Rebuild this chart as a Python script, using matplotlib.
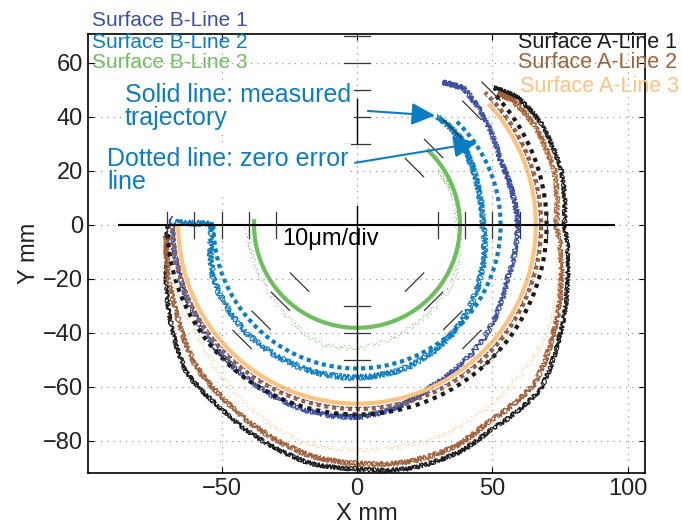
import numpy as np
import matplotlib
matplotlib.use("Agg")
import matplotlib.pyplot as plt

plt.rcParams['font.family'] = ['Liberation Sans', 'DejaVu Sans']

# Measured trajectories: polar angle (deg, 180 = -X axis, 360+ = first quadrant) and plotted radius (mm)
a1_theta = [182, 191, 206, 221, 233, 248, 259, 270, 282, 294, 303, 318, 332, 345, 360, 375, 390, 399, 405]
a1_r = [70, 71.4, 76.9, 83.3, 84.3, 87.3, 89.7, 90, 92, 92, 90.4, 91, 85, 80.4, 76.5, 78, 77.5, 75.5, 71.5]

a2_theta = [183, 192, 206, 221, 233, 248, 259, 270, 282, 294, 303, 318, 332, 345, 360, 375, 390, 399, 403]
a2_r = [70.5, 71.5, 74, 79, 81, 84.5, 87, 88, 89.5, 89.5, 87.5, 88, 82.5, 78, 73.5, 75.5, 75, 73.5, 71]

a3_theta = [184, 196, 214, 232, 255, 270, 290, 308, 330, 345, 360, 375, 390, 400]
a3_r = [70, 70.5, 71.5, 75.9, 82.7, 83, 84, 82.5, 81, 76.5, 74, 75, 74.5, 72]

b1_theta = [177.5, 197, 218, 240, 255, 270, 282, 294, 320, 340, 360, 372, 384.5, 399.5, 412, 419]
b1_r = [68.3, 68, 69, 70, 71, 71, 69, 65.8, 62.5, 58.9, 59.4, 58.5, 58, 61.2, 64, 61.4]

b2_theta = [179.2, 179.6, 181, 200.7, 224.6, 250, 270, 289.3, 311.5, 336.2, 360, 375, 390, 400, 413.6]
b2_r = [69, 54, 53.5, 56.6, 57, 56.5, 56.3, 55.7, 53.4, 49.6, 46.5, 46.5, 48, 49.8, 49.7]

b3_theta = [180, 200, 224, 250, 270, 300, 330, 360, 380, 394]
b3_r = [40.6, 40, 41.3, 45.6, 45.5, 42.6, 41, 37, 37, 36]

# Zero error circles: radius (mm) and angular span (deg)
zero_a1 = (70, 180, 403)
zero_a2 = (68, 181, 406)
zero_a3 = (66, 180, 402)
zero_b1 = (67.4, 180, 405)
zero_b2 = (53, 180, 406)
zero_b3 = (38, 178, 406)

# Scale marks, 10 um per division
tick_radii = [30, 40, 50, 60, 70]
tick_angles = [0, 45, 90, 180, 225, 270, 315]

c_a1 = '#1a1a1a'
c_a2 = '#a0603a'
c_a3 = '#fdc27b'
c_b1 = '#3b4ea4'
c_b2 = '#0b7dc3'
c_b3 = '#6cbf5c'

fig = plt.figure(figsize=(6.82, 5.32), dpi=100)
ax = fig.add_axes([88 / 682, 59 / 532, 557 / 682, 439 / 532], zorder=2)
ax.set_xlim(-99.3, 106.3)
ax.set_ylim(-91.9, 70.7)
ax.patch.set_visible(False)

# polar axes underneath, sharing the origin and mm scale of the cartesian one
r_max = 97
ox, oy = ax.transData.transform((0, 0))
ex, _ = ax.transData.transform((r_max, 0))
rpx = ex - ox
W, H = fig.bbox.width, fig.bbox.height
pax = fig.add_axes([(ox - rpx) / W, (oy - rpx) / H, 2 * rpx / W, 2 * rpx / H],
                   projection='polar', zorder=1)
pax.set_ylim(0, r_max)
pax.axis('off')

# a few sketch passes stacked give the jagged probe-noise band
sketch_passes = [(1.0, 1, 16), (0.8, 2, 8), (1.0, 0.6, 30)]


def trace(theta, r, color, lw, wiggle, ls='-', passes=sketch_passes):
    for amp, length, rnd in passes:
        line, = pax.plot(np.radians(theta), r, color=color, lw=lw, ls=ls)
        line.get_path()._interpolation_steps = 40
        line.set_sketch_params(wiggle * amp, length, rnd)


def zero_line(spec, color, lw, ls):
    r, t1, t2 = spec
    line, = pax.plot(np.radians([t1, t2]), [r, r], color=color, lw=lw, ls=ls)
    line.get_path()._interpolation_steps = 200
    return line


trace(a1_theta, a1_r, c_a1, 0.8, 2.4)
trace(a2_theta, a2_r, c_a2, 0.8, 2.8)
trace(a3_theta, a3_r, c_a3, 0.7, 2.5, ls=(0, (1, 2)), passes=sketch_passes[:1])
trace(b1_theta, b1_r, c_b1, 0.8, 2.8)
trace(b2_theta, b2_r, c_b2, 0.8, 3.2)
trace(b3_theta, b3_r, c_b3, 0.7, 2.5, ls=(0, (1, 2)), passes=sketch_passes[:1])

zero_line(zero_a3, c_a3, 3, '-')
zero_line(zero_a2, c_a2, 3, (0, (1, 0.9)))
zero_line(zero_a1, c_a1, 3, (0, (1, 1.2)))
zero_line(zero_b1, c_b1, 0.8, (0, (2, 2)))
zero_line(zero_b2, c_b2, 3, (0, (1, 0.9)))
zero_line(zero_b3, c_b3, 3, '-')

# crosshair and scale marks
ax.plot([-88, 95], [0, 0], color='k', lw=1.5)
ax.plot([0, 0], [-91.9, 7], color='k', lw=1.0)
ax.plot([0, 0], [30, 46.5], color='k', lw=1.0)
for a in np.radians(tick_angles):
    for r in tick_radii:
        cx, cy = r * np.cos(a), r * np.sin(a)
        dx, dy = -4.8 * np.sin(a), 4.8 * np.cos(a)
        ax.plot([cx - dx, cx + dx], [cy - dy, cy + dy], color='#333333', lw=0.9)

ax.text(-27.7, -7.4, '10μm/div', fontsize=17, va='baseline', ha='left')

box = dict(boxstyle='square,pad=0.12', fc='white', ec='none')
ax.text(-85.6, 52.4, 'Solid line: measured\ntrajectory', color=c_b2, fontsize=18,
        va='top', ha='left', linespacing=0.95, bbox=box)
ax.text(-92.3, 28.7, 'Dotted line: zero error\nline', color=c_b2, fontsize=18,
        va='top', ha='left', linespacing=0.95, bbox=box)
arrow = dict(arrowstyle='-|>,head_length=0.72,head_width=0.34', color=c_b2, lw=1.5,
             shrinkA=0, shrinkB=0, mutation_scale=20)
ax.annotate('', xy=(28.8, 40.5), xytext=(4, 42.2), arrowprops=arrow)
ax.annotate('', xy=(44.3, 30.4), xytext=(-0.7, 23), arrowprops=arrow)

ax.set_xticks([-50, 0, 50, 100])
ax.set_yticks([-80, -60, -40, -20, 0, 20, 40, 60])
ax.tick_params(direction='in', top=True, right=True, length=4, width=0.8, labelsize=17,
               labelcolor='#222222')
ax.grid(True, color='#999999', lw=0.9, ls=(0, (1, 4)))
for s in ax.spines.values():
    s.set_linewidth(1.2)
ax.set_xlabel('X mm', fontsize=17, labelpad=2, color='#222222')
ax.set_ylabel('Y mm', fontsize=17, labelpad=2, color='#222222')

fig.text(92 / 682, 1 - 20 / 532, 'Surface B-Line 1', color=c_b1, fontsize=15, va='center')
fig.text(92 / 682, 1 - 43 / 532, 'Surface B-Line 2', color=c_b2, fontsize=15, va='center')
fig.text(92 / 682, 1 - 62 / 532, 'Surface B-Line 3', color=c_b3, fontsize=15, va='center')
fig.text(518 / 682, 1 - 43 / 532, 'Surface A-Line 1', color=c_a1, fontsize=15.5, va='center')
fig.text(518 / 682, 1 - 63 / 532, 'Surface A-Line 2', color=c_a2, fontsize=15.5, va='center')
fig.text(520 / 682, 1 - 87 / 532, 'Surface A-Line 3', color=c_a3, fontsize=15.5, va='center')

fig.savefig('out.png', dpi=100)
